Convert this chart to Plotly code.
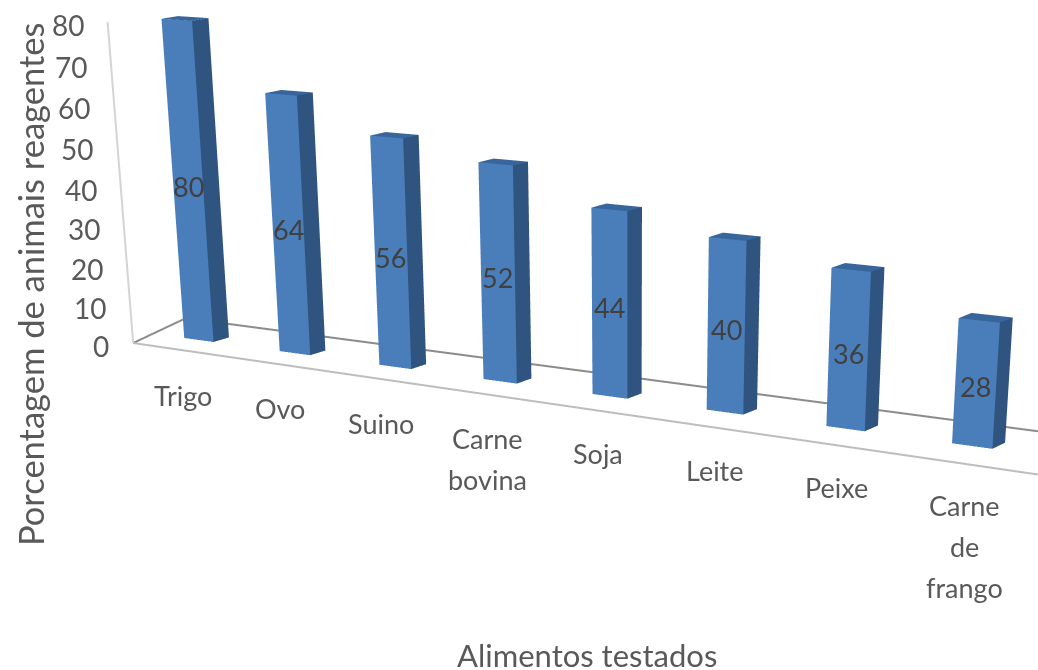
import plotly.graph_objects as go

# Dados do gráfico
categorias = ["Trigo", "Ovo", "Suino", "Carne<br>bovina", "Soja", "Leite", "Peixe", "Carne<br>de<br>frango"]
valores = [80, 64, 56, 52, 44, 40, 36, 28]
ticks_z = [0, 10, 20, 30, 40, 50, 60, 70, 80]
titulo_x = "Alimentos testados"
titulo_z = "Porcentagem de animais reagentes"

# Geometria das colunas, em unidades de categoria e de profundidade
LARGURA = 0.3108
PROF = 0.3266
MARGEM_X = 0.5087

FONTE = "Lato"
COR_FRENTE = "#4a7ebb"
COR_LADO = "#2f5480"
COR_TOPO = "#38659a"
COR_ROTULO = "#404040"
COR_EIXO = "#595959"

# A cena é mais alta que a janela: um campo de visão largo em pixels dá a perspectiva suave das colunas
ALTURA_CENA = 2400


def coluna(pos, valor):
    x0, x1 = pos - LARGURA / 2, pos + LARGURA / 2
    y0, y1 = 0.5 - PROF / 2, 0.5 + PROF / 2
    return go.Mesh3d(
        x=[x0, x1, x1, x0, x0, x1, x1, x0],
        y=[y0, y0, y1, y1, y0, y0, y1, y1],
        z=[0, 0, 0, 0, valor, valor, valor, valor],
        i=[0, 0, 1, 1, 4, 4], j=[1, 5, 2, 6, 5, 6], k=[5, 4, 6, 5, 6, 7],
        facecolor=[COR_FRENTE] * 2 + [COR_LADO] * 2 + [COR_TOPO] * 2,
        flatshading=True, hoverinfo="skip", showscale=False,
        lighting=dict(ambient=1, diffuse=0, specular=0, fresnel=0),
    )


def linha(xs, ys, zs, cor, esp):
    return go.Scatter3d(x=xs, y=ys, z=zs, mode="lines", line=dict(color=cor, width=esp), hoverinfo="skip")


x_ini, x_fim = -MARGEM_X, len(valores) - 1 + MARGEM_X

# Contorno do piso e eixo vertical
frente_ini, fundo_ini = x_ini + 0.11, x_ini - 0.15
y_frente, y_fundo = -0.25, 1.35
fim_piso = x_fim + 0.4

fig = go.Figure()
fig.add_trace(linha([frente_ini, fim_piso], [y_frente, y_frente - 0.2], [0, 0], "#bdbdbd", 4))
fig.add_trace(linha([fundo_ini, fim_piso], [y_fundo, y_fundo], [0, 0], "#8c8c8c", 4))
fig.add_trace(linha([frente_ini, fundo_ini], [y_frente, y_fundo], [0, 0], "#8c8c8c", 4))
fig.add_trace(linha([frente_ini, frente_ini], [y_frente, y_frente], [0, max(ticks_z)], "#d4d4d4", 4))
for pos, valor in enumerate(valores):
    fig.add_trace(coluna(pos, valor))

rotulos = []
# Marcas do eixo vertical
for t in ticks_z:
    rotulos.append(dict(x=frente_ini, y=y_frente, z=t, text=str(t), showarrow=False, xanchor="right", yanchor="middle",
                        xshift=-22, yshift=-3, font=dict(family=FONTE, size=28, color=COR_EIXO)))
# Valor no meio de cada coluna
for pos, valor in enumerate(valores):
    rotulos.append(dict(x=pos, y=0.5 - PROF / 2, z=valor / 2, text=str(valor), showarrow=False, xanchor="center",
                        yanchor="middle", yshift=-3, font=dict(family=FONTE, size=27, color=COR_ROTULO)))
# Categorias, uma anotação por linha para controlar a entrelinha
for pos, nome in enumerate(categorias):
    for n, parte in enumerate(nome.split("<br>")):
        rotulos.append(dict(x=pos, y=-0.6, z=0, text=parte, showarrow=False, xanchor="center", yanchor="middle",
                            xshift=30, yshift=-42 - 41 * n, font=dict(family=FONTE, size=27, color=COR_EIXO)))

fig.update_layout(
    width=1038, height=ALTURA_CENA, margin=dict(l=0, r=0, t=0, b=0), showlegend=False, paper_bgcolor="white",
    scene=dict(
        domain=dict(x=[0, 1], y=[0, 1]), dragmode="orbit", aspectmode="manual",
        aspectratio=dict(x=1.7475 * (x_fim - x_ini + 2) / (x_fim - x_ini), y=0.1321 * 3, z=0.5321),
        camera=dict(eye=dict(x=2.7046, y=-4.0405, z=0.8268), center=dict(x=0, y=-0.1712, z=-1.7195),
                    up=dict(x=0.0218, y=0, z=1), projection=dict(type="perspective")),
        xaxis=dict(visible=False, range=[x_ini - 1, x_fim + 1]),
        yaxis=dict(visible=False, range=[-1, 2]),
        zaxis=dict(visible=False, range=[0, max(ticks_z)]),
        annotations=rotulos,
    ),
    annotations=[
        dict(text=titulo_x, x=587 / 1038, y=1 - 655 / ALTURA_CENA, xref="paper", yref="paper", showarrow=False,
             xanchor="center", yanchor="middle", font=dict(family=FONTE, size=31, color=COR_EIXO)),
        dict(text=titulo_z, x=30 / 1038, y=1 - 285 / ALTURA_CENA, xref="paper", yref="paper", showarrow=False,
             xanchor="center", yanchor="middle", textangle=-90, font=dict(family=FONTE, size=34.5, color=COR_EIXO)),
    ],
)
fig.write_html("out.html", config=dict(displayModeBar=False),
               post_script="document.documentElement.style.overflow='hidden';document.body.style.overflow='hidden';")
